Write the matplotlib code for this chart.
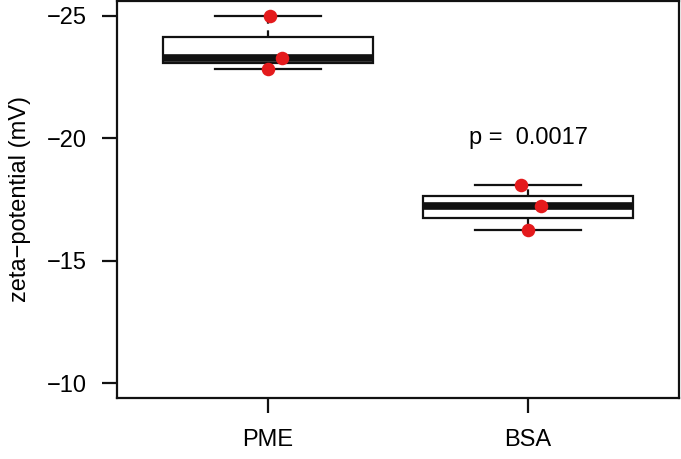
import numpy as np
import matplotlib
matplotlib.use('Agg')
import matplotlib.pyplot as plt

plt.rcParams['font.family'] = ['Liberation Sans', 'DejaVu Sans']

# zeta potential of the three replicates per group
groups = ['PME', 'BSA']
pme = [-24.97, -23.27, -22.84]
bsa = [-18.08, -17.24, -16.27]
# small horizontal jitter of the dots
pme_jit = [0.008, 0.053, 0.002]
bsa_jit = [-0.029, 0.049, 0.0]
p_text = 'p =  0.0017'

fig = plt.figure(figsize=(6.81, 4.59), dpi=100)
ax = fig.add_axes([117/681, 61/459, 562/681, 397/459])

bp = ax.boxplot([pme, bsa], positions=[1, 2], widths=0.81, capwidths=0.41,
                whis=(0, 100), patch_artist=True, showfliers=False,
                boxprops=dict(facecolor='white', edgecolor='#111111', linewidth=1.6),
                medianprops=dict(color='#111111', linewidth=5.5, solid_capstyle='butt'),
                whiskerprops=dict(color='#111111', linewidth=1.6, linestyle=(0, (3, 3))),
                capprops=dict(color='#111111', linewidth=1.6))

ax.scatter(1 + np.array(pme_jit), pme, s=95, color='#e41a1c', zorder=5, linewidths=0)
ax.scatter(2 + np.array(bsa_jit), bsa, s=95, color='#e41a1c', zorder=5, linewidths=0)

ax.text(2, -20, p_text, ha='center', va='center', fontsize=17)

ax.set_xlim(0.42, 2.58)
ax.set_ylim(-9.4, -25.6)
ax.set_xticks([1, 2])
ax.set_xticklabels(groups)
ax.set_yticks([-25, -20, -15, -10])
ax.set_ylabel('zeta\u2212potential (mV)', fontsize=17, labelpad=11)
ax.tick_params(labelsize=17, length=11, width=1.6, pad=11, color='#111111')
for s in ax.spines.values():
    s.set_linewidth(1.6)
    s.set_color('#111111')

fig.savefig('out.png', dpi=100)
